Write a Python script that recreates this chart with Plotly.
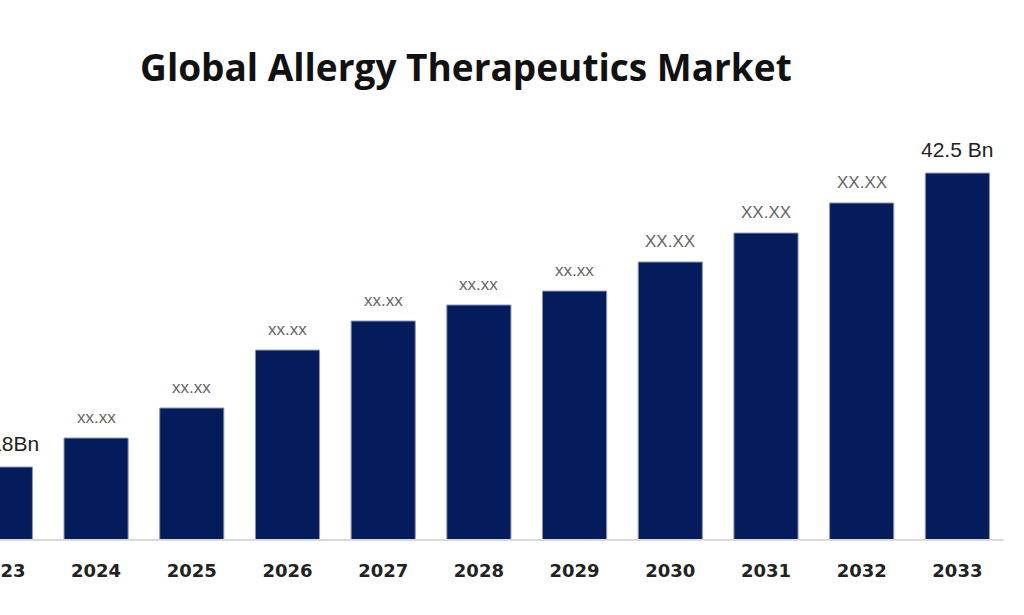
import plotly.graph_objects as go

years = ["2023", "2024", "2025", "2026", "2027", "2028", "2029", "2030", "2031", "2032", "2033"]
values = [21.18, 23.28, 25.46, 29.66, 31.77, 32.93, 33.94, 36.05, 38.15, 40.33, 42.5]
labels = ["21.18Bn", "xx.xx", "xx.xx", "xx.xx", "xx.xx", "xx.xx", "xx.xx", "XX.XX", "XX.XX", "XX.XX", "42.5 Bn"]
title = "Global Allergy Therapeutics Market"

idx = list(range(len(years)))

fig = go.Figure()
fig.add_trace(go.Bar(
    x=idx, y=values,
    marker=dict(color="#041c5c", line=dict(color="#8a93b5", width=1)),
    hoverinfo="skip",
))

for i, v, lab in zip(idx, values, labels):
    big = lab.endswith("Bn")
    fig.add_annotation(
        x=i, y=v, text=lab, showarrow=False,
        xanchor="center", yanchor="bottom", yshift=10 if big else 9,
        font=dict(family="Liberation Sans", size=21 if big else 17,
                  color="#222222" if big else "#666666"),
    )

fig.add_shape(type="line", xref="paper", yref="paper", x0=0, x1=0.98, y0=0, y1=0,
              line=dict(color="#d9d9d9", width=2))

fig.update_layout(
    width=1024, height=615,
    margin=dict(l=0, r=0, t=100, b=75, autoexpand=False),
    paper_bgcolor="white", plot_bgcolor="white",
    bargap=0.33,
    showlegend=False,
    title=dict(text="<b>" + title + "</b>", x=0.455, xanchor="center", y=0.89, yanchor="middle",
               font=dict(family="Open Sans", size=37, color="#111111")),
    xaxis=dict(range=[-0.004, 10.696], showgrid=False, showline=False, zeroline=False,
               automargin=False,
               tickmode="array", tickvals=idx, ticktext=["<b>" + y + "</b>" for y in years],
               ticks="", ticklabelstandoff=18, ticklabeloverflow="allow",
               tickfont=dict(family="DejaVu Sans", size=18, color="#222222")),
    yaxis=dict(range=[15.886, 47.8], visible=False, showgrid=False, automargin=False),
)

fig.write_html("out.html")
